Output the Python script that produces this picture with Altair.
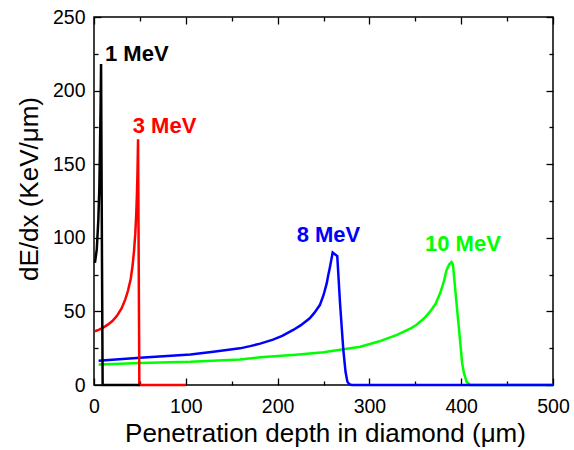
import altair as alt
import pandas as pd

# Stopping power (dE/dx) versus penetration depth in diamond for protons
depth_1 = [1.0, 3.0, 4.7, 5.8, 6.5, 7.2, 7.7, 8.5, 9.4, 50.0]
dedx_1 = [83, 92, 112, 134, 160, 190, 218, 110, 0, 0]

depth_3 = [1.0, 5, 10, 15, 20, 25, 30, 34, 37, 40, 42, 43.6, 45, 46, 46.8,
           47.4, 48.0, 48.7, 49.4, 100]
dedx_3 = [36.5, 37.5, 39, 41, 43.5, 47, 52, 58, 64, 72, 81, 91, 103, 116, 130,
          145, 167, 85, 0, 0]

depth_8 = [5, 50, 105, 130, 159, 170, 181, 195, 205, 217, 225, 235, 240, 246,
           250, 253.5, 255, 257, 258.5, 260, 265, 268, 271.6, 274, 276, 278,
           280.5, 500]
dedx_8 = [16.5, 18.5, 20.8, 22.6, 24.9, 26.4, 28.1, 30.8, 33.4, 37.4, 40.5, 45.3,
          49, 54.3, 61, 69, 74, 80, 85, 90, 87.6, 55.7, 23.8, 9, 2.3, 0.5, 0, 0]

depth_10 = [5, 50, 105, 159, 181, 220, 250, 290, 310, 330, 345, 351, 360, 366,
            372, 377, 381, 384, 387, 389.5, 391, 395, 398.7, 401, 403, 406,
            410, 500]
dedx_10 = [14, 15, 15.8, 17.4, 18.8, 20.5, 22.2, 26, 29.5, 34, 38.5, 40.8, 45.5,
           49.8, 55, 62.3, 70, 78, 82, 83.5, 82, 55, 30.6, 15, 8, 2, 0, 0]

label_text = ["1 MeV", "3 MeV", "8 MeV", "10 MeV"]
label_x = [12, 42.2, 220.8, 360.6]
label_y = [220, 171.2, 97.3, 91]
label_color = ["#000000", "#ff0000", "#0000ff", "#00ff00"]

x_major = [0, 100, 200, 300, 400, 500]
x_minor = [50, 150, 250, 350, 450]
y_major = [0, 50, 100, 150, 200, 250]
y_minor = [25, 75, 125, 175, 225]

W, H = 459, 368
FONT = "Liberation Sans"

xs = alt.Scale(domain=[0, 500], nice=False, zero=False)
ys = alt.Scale(domain=[0, 250], nice=False, zero=False)


def tick_axis(orient, values, size, offset):
    # inward tick marks: an axis pushed across the plot onto the opposite edge
    return alt.Axis(orient=orient, offset=offset, values=values, labels=False,
                    domain=False, grid=False, tickSize=size, tickWidth=1.3,
                    tickColor="black")


label_x_axis = alt.Axis(orient="bottom", values=x_major, ticks=False, tickSize=0,
                        domain=False, grid=False, labelPadding=12, format="d",
                        labelFlush=False, labelOverlap=False,
                        titleX=231, titleY=56, titleBaseline="alphabetic",
                        titleAlign="center")
label_y_axis = alt.Axis(orient="left", values=y_major, ticks=False, tickSize=0,
                        domain=False, grid=False, labelPadding=9, format="d",
                        labelFlush=False, labelOverlap=False,
                        titleX=-56.5, titleY=171.5, titleAngle=270,
                        titleBaseline="alphabetic", titleAlign="center")


def curve(xv, yv, color, xaxis, yaxis, xtitle=None, ytitle=None):
    df = pd.DataFrame({"depth": xv, "dedx": yv})
    return alt.Chart(df).mark_line(color=color, strokeWidth=2.5).encode(
        x=alt.X("depth:Q", scale=xs, axis=xaxis, title=xtitle),
        y=alt.Y("dedx:Q", scale=ys, axis=yaxis, title=ytitle),
        order="index:Q",
    ).transform_window(index="row_number()")


green = curve(depth_10, dedx_10, "#00ff00", label_x_axis, label_y_axis,
              "Penetration depth in diamond (\u03bcm)", "dE/dx (KeV/\u03bcm)")
blue = curve(depth_8, dedx_8, "#0000ff",
             tick_axis("top", x_major, 7, -H), tick_axis("right", y_major, 7, -W))
red = curve(depth_3, dedx_3, "#ff0000",
            tick_axis("top", x_minor, 4, -H), tick_axis("right", y_minor, 4, -W))
black = curve(depth_1, dedx_1, "#000000",
              tick_axis("bottom", x_major, 7, -H), tick_axis("left", y_major, 7, -W))

labels_df = pd.DataFrame({"text": label_text, "x": label_x, "y": label_y})
labels = alt.Chart(labels_df).mark_text(
    font=FONT, fontSize=22, fontWeight="bold", align="left", baseline="alphabetic"
).encode(
    x=alt.X("x:Q", scale=xs, axis=tick_axis("bottom", x_minor, 4, -H), title=None),
    y=alt.Y("y:Q", scale=ys, axis=tick_axis("left", y_minor, 4, -W), title=None),
    text="text:N",
    color=alt.Color("text:N", scale=alt.Scale(domain=label_text, range=label_color),
                    legend=None),
)

chart = alt.layer(green, blue, red, black, labels).resolve_axis(
    x="independent", y="independent"
).properties(
    width=W, height=H, autosize="none",
    padding={"left": 94, "top": 17, "right": 21, "bottom": 65},
    background="white",
).configure_view(
    stroke="black", strokeWidth=1.5
).configure_axis(
    labelFont=FONT, labelFontSize=19.5, labelColor="black",
    titleFont=FONT, titleFontSize=26, titleColor="black", titleFontWeight="normal",
)

chart.save("out.html", embed_options={"renderer": "svg", "actions": False})
